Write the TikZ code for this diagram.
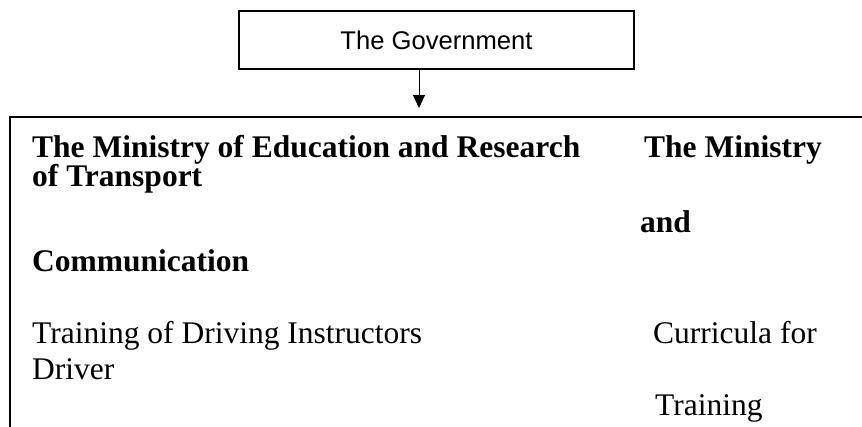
\documentclass[tikz,border=0pt]{standalone}
\usepackage{fontspec}
\setmainfont{Liberation Serif}
\newfontfamily\arialfont{Liberation Sans}
\usetikzlibrary{arrows.meta}
\begin{document}
\begin{tikzpicture}[x=1pt,y=-1pt,
  govbox/.style={draw, line width=1.6pt, minimum width=395pt, minimum height=58pt, inner sep=0pt,
    font=\arialfont\fontsize{25.6}{30}\selectfont},
  frame/.style={line width=1.6pt},
  txt/.style={anchor=base west, inner sep=0pt, font=\fontsize{31.5}{36}\selectfont},
  btxt/.style={txt, font=\fontsize{31.5}{36}\selectfont\bfseries},
  arr/.style={line width=1pt, -{Triangle[length=13pt, width=12pt]}}]
\useasboundingbox (0,0) rectangle (862,426);
\node[govbox] (gov) at (436.5,40) {The Government};
\coordinate (arrowend) at (419,108);
\draw[arr] (gov.south -| arrowend) -- (arrowend);
\coordinate (bl) at (10,427);
\coordinate (tl) at (10,117);
\coordinate (tr) at (863,117);
\draw[frame] (bl) -- (tl) -- (tr);
\node[btxt] (t1) at (32,157) {The Ministry of Education and Research};
\node[btxt] (t2) at (644,157) {The Ministry};
\node[btxt] (t3) at (32,186) {of Transport};
\node[btxt] (t4) at (640,232) {and};
\node[btxt] (t5) at (32,271) {Communication};
\node[txt] (t6) at (32,343) {Training of Driving Instructors};
\node[txt] (t7) at (653,343) {Curricula for};
\node[txt] (t8) at (32,379) {Driver};
\node[txt] (t9) at (655,415) {Training};
\end{tikzpicture}
\end{document}
